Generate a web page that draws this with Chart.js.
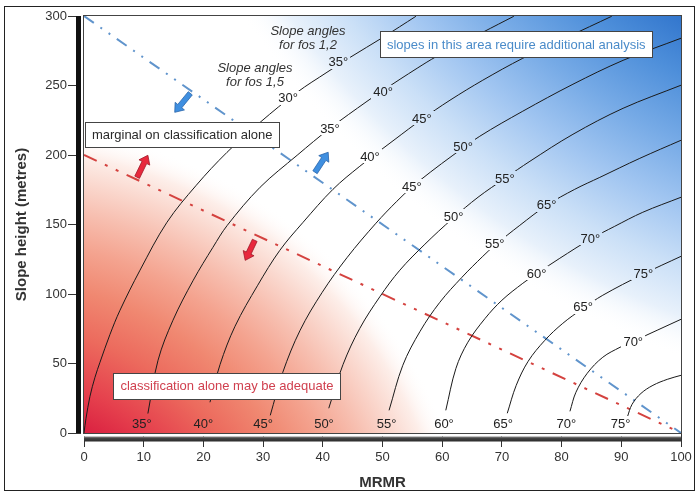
<!DOCTYPE html>
<html><head><meta charset="utf-8">
<script src="https://cdn.jsdelivr.net/npm/chart.js@4.4.0/dist/chart.umd.min.js"></script>
<style>html,body{margin:0;padding:0;background:#fff}#wrap{width:700px;height:499px}</style>
</head><body><div id="wrap"><canvas id="c" width="700" height="499"></canvas></div>
<script>
// ---- data (MRMR, slope height m) ----
const curve0 = [[0,0],[0.34,10.6],[1.0,26.4],[1.84,40.1],[2.68,50.9],[4.36,71.0],[6.03,88.3],[9.38,117.1],[13.9,151.6],[18.8,178.2],[23.95,201.9],[29.5,223.5],[35.7,245.1],[40.7,259.5],[44.6,270.3],[50.1,284.7],[55.6,299.8]];
const curve1 = [[10.7,14.0],[12.4,52.3],[14.9,81.1],[18.3,109.9],[21.6,133.6],[24.0,149.4],[29.5,176.8],[35.7,199.8],[41.2,219.2],[47.4,238.6],[50.1,246.5],[55.8,262.4],[59.1,271.0],[66.8,288.3],[72.0,299.8]];
const curve2 = [[21.1,22.1],[22.8,49.4],[25.3,76.8],[29.1,106.3],[32.8,131.4],[36.7,151.6],[41.7,175.3],[46.2,191.9],[52.1,211.3],[56.6,225.7],[61.3,239.4],[66.8,253.8],[73.5,269.6],[80.9,284.7],[88.4,299.8]];
const curve3 = [[31.2,12.7],[33.3,43.7],[36.2,73.9],[39.9,101.2],[44.1,126.4],[48.9,150.9],[52.4,166.7],[54.9,176.8],[58.0,187.6],[61.8,199.8],[66.3,213.5],[73.5,231.5],[81.9,250.9],[90.3,268.1],[100,284.0]];
const curve4 = [[41.0,17.8],[43.4,49.4],[46.2,75.3],[49.6,98.3],[52.9,117.1],[57.1,135.8],[61.8,154.5],[66.0,169.6],[70.5,183.2],[74.7,195.5],[81.9,214.9],[90.3,233.6],[100,250.2]];
const curve5 = [[51.1,16.3],[53.4,48.7],[56.3,73.2],[59.6,94.0],[63.3,112.0],[66.8,127.1],[68.8,135.0],[73.0,149.4],[77.5,163.8],[82.2,175.3],[86.4,183.9],[93.1,197.6],[100,210.6]];
const curve6 = [[60.6,16.3],[62.3,46.5],[64.3,65.3],[67.2,82.5],[70.0,95.5],[73.5,107.7],[75.9,114.9],[79.7,125.7],[84.8,139.4],[88.9,148.7],[93.6,158.8],[100,169.6]];
const curve7 = [[70.9,14.2],[72.4,34.3],[74.4,51.6],[77.2,66.7],[80.2,78.9],[83.6,89.7],[86.9,99.1],[93.6,114.2],[100,127.1]];
const curve8 = [[81.4,15.6],[82.4,29.3],[84.3,43.0],[86.9,54.5],[89.8,61.7],[92.0,66.0],[96.0,73.9],[100,81.8]];
const curve9 = [[91.0,11.3],[91.8,20.6],[93.3,28.5],[95.3,34.3],[97.7,38.6],[100,41.5]];
const blueLimit = [[0,300],[100,0]];
const redLimit = [[0,200],[100,0]];

const xTickStep = 10, yTickStep = 50;

// labels (text) and their anchor points on the curves
const fos15Text = ['30°','35°','40°','45°','50°','55°','60°','65°','70°'];
const fos15At = [[34.2,240.8],[41.2,219.0],[47.9,198.6],[54.9,177.0],[61.9,155.4],[68.8,136.3],[75.8,114.7],[83.6,90.6],[92.0,65.5]];
const fos12Text = ['35°','40°','45°','50°','55°','65°','70°','75°'];
const fos12At = [[42.6,266.9],[50.1,245.3],[56.6,226.2],[63.5,205.8],[70.5,183.0],[77.5,163.8],[84.8,139.9],[93.7,114.7]];
const baseText = ['35°','40°','45°','50°','55°','60°','65°','70°','75°'];
const baseAt = [[9.7,6.8],[20.0,6.8],[30.0,6.8],[40.2,6.8],[50.7,6.8],[60.3,6.8],[70.2,6.8],[80.8,6.8],[89.9,6.8]];

const FONT = 'Liberation Sans, Arial, sans-serif';

// background shading: radial washes (stop = distance in px from an off-plot centre)
const redStops = [[180,'rgb(216,26,62)'],[225,'rgb(229,64,77)'],[275,'rgb(236,106,93)'],[320,'rgb(240,136,113)'],
                  [360,'rgb(244,163,143)'],[395,'rgb(247,190,175)'],[425,'rgb(250,215,205)'],[452,'rgb(253,238,233)'],[478,'rgba(255,255,255,0)']];
const blueStops = [[579,'rgb(50,118,205)'],[630,'rgb(78,143,218)'],[690,'rgb(118,170,230)'],[750,'rgb(162,198,241)'],
                   [805,'rgb(203,224,247)'],[850,'rgb(232,241,251)'],[890,'rgba(255,255,255,0)']];

function radial(ctx, cx, cy, stops) {
  const r0 = stops[0][0], r1 = stops[stops.length - 1][0];
  const g = ctx.createRadialGradient(cx, cy, r0, cx, cy, r1);
  stops.forEach(st => g.addColorStop((st[0] - r0) / (r1 - r0), st[1]));
  return g;
}
function paintBg(ctx, a) {
  const w = a.right - a.left, h = a.bottom - a.top;
  ctx.fillStyle = '#fff';
  ctx.fillRect(a.left, a.top, w, h);
  ctx.fillStyle = radial(ctx, a.left - 84, a.bottom + 168, redStops);
  ctx.fillRect(a.left, a.top, w, h);
  ctx.fillStyle = radial(ctx, a.right + 299, a.top - 496, blueStops);
  ctx.fillRect(a.left, a.top, w, h);
}

function arrow(ctx, x1, y1, x2, y2, fill, stroke) {
  const dx = x2 - x1, dy = y2 - y1, L = Math.hypot(dx, dy);
  const ux = dx / L, uy = dy / L, nx = -uy, ny = ux;
  const sw = 2.6, hw = 6, hl = 8;
  const bx = x2 - ux * hl, by = y2 - uy * hl;
  const p = [[x1 + nx * sw, y1 + ny * sw], [bx + nx * sw, by + ny * sw], [bx + nx * hw, by + ny * hw], [x2, y2],
             [bx - nx * hw, by - ny * hw], [bx - nx * sw, by - ny * sw], [x1 - nx * sw, y1 - ny * sw]];
  ctx.beginPath();
  p.forEach((q, i) => i ? ctx.lineTo(q[0], q[1]) : ctx.moveTo(q[0], q[1]));
  ctx.closePath();
  ctx.fillStyle = fill; ctx.fill();
  ctx.strokeStyle = stroke; ctx.lineWidth = 0.8; ctx.stroke();
}

let snapshot = null;
const bgPlugin = {
  id: 'bg',
  beforeDraw(chart) {
    const ctx = chart.ctx;
    ctx.save();
    ctx.fillStyle = '#fff';
    ctx.fillRect(0, 0, chart.width, chart.height);
    ctx.strokeStyle = '#222'; ctx.lineWidth = 1;
    ctx.strokeRect(4.5, 6.5, 690, 484);
    ctx.restore();
  },
  beforeDatasetsDraw(chart) {
    const ctx = chart.ctx;
    ctx.save();
    paintBg(ctx, chart.chartArea);
    ctx.restore();
    snapshot = ctx.getImageData(0, 0, chart.canvas.width, chart.canvas.height);
  },
  afterDatasetsDraw(chart) {
    const ctx = chart.ctx, a = chart.chartArea;
    const r = chart.currentDevicePixelRatio || 1;
    const xs = chart.scales.x, ys = chart.scales.y;
    const px = v => xs.getPixelForValue(v), py = v => ys.getPixelForValue(v);
    ctx.save();
    ctx.font = '13px ' + FONT;
    ctx.textAlign = 'center'; ctx.textBaseline = 'middle';
    const drawLabel = (t, at) => {
      const x = px(at[0]), y = py(at[1]);
      const w = ctx.measureText(t).width;
      const L = Math.floor(x - w / 2 - 2), T = Math.floor(y - 7);
      ctx.putImageData(snapshot, 0, 0, L * r, T * r, Math.ceil(w + 4) * r, 14 * r);
      ctx.fillStyle = '#222';
      ctx.fillText(t, x, y + 0.5);
    };
    fos15Text.forEach((t, i) => drawLabel(t, fos15At[i]));
    fos12Text.forEach((t, i) => drawLabel(t, fos12At[i]));
    baseText.forEach((t, i) => drawLabel(t, baseAt[i]));

    // text boxes
    const box = (x0, y0, x1, y1, text, color) => {
      const L = px(x0), R = px(x1), T = py(y1), B = py(y0);
      ctx.fillStyle = '#fff';
      ctx.fillRect(L, T, R - L, B - T);
      ctx.strokeStyle = '#444'; ctx.lineWidth = 1;
      ctx.strokeRect(Math.round(L) + 0.5, Math.round(T) + 0.5, Math.round(R - L), Math.round(B - T));
      ctx.fillStyle = color; ctx.font = '13px ' + FONT;
      ctx.fillText(text, (L + R) / 2, (T + B) / 2 + 0.5);
    };
    box(0.2, 205.5, 32.7, 223.5, 'marginal on classification alone', '#2a2a2a');
    box(49.6, 270.0, 95.2, 288.9, 'slopes in this area require additional analysis', '#4a8bc9');
    box(4.9, 24.2, 43.0, 43.0, 'classification alone may be adequate', '#d0404f');

    // italic captions
    ctx.fillStyle = '#333'; ctx.font = 'italic 13px ' + FONT;
    ctx.fillText('Slope angles', 308, 31);
    ctx.fillText('for fos 1,2', 308, 45);
    ctx.fillText('Slope angles', 255, 68);
    ctx.fillText('for fos 1,5', 255, 82);

    // arrows
    arrow(ctx, px(17.8), py(244.4), px(15.2), py(230.7), '#3f8fe0', '#2a64aa');
    arrow(ctx, px(38.7), py(187.6), px(40.9), py(202.0), '#3f8fe0', '#2a64aa');
    arrow(ctx, px(8.9), py(184.0), px(10.7), py(199.8), '#e8283c', '#a01a2a');
    arrow(ctx, px(28.6), py(138.6), px(27.0), py(124.2), '#e8283c', '#a01a2a');

    // axis bars and frame
    ctx.fillStyle = '#fff';
    ctx.fillRect(a.left - 3, a.top, 3, a.bottom - a.top + 3);
    ctx.fillRect(a.left - 3, a.bottom, a.right - a.left + 3, 3.5);
    ctx.fillStyle = '#111';
    ctx.fillRect(a.left - 8, a.top, 5, a.bottom - a.top);
    const g = ctx.createLinearGradient(0, a.bottom + 3.5, 0, a.bottom + 8.5);
    g.addColorStop(0, '#888'); g.addColorStop(0.4, '#444'); g.addColorStop(1, '#2a2a2a');
    ctx.fillStyle = g;
    ctx.fillRect(a.left, a.bottom + 3.5, a.right - a.left, 5);
    ctx.strokeStyle = '#444'; ctx.lineWidth = 1;
    ctx.strokeRect(Math.round(a.left) - 0.5, Math.round(a.top) - 0.5, Math.round(a.right - a.left) + 1, Math.round(a.bottom - a.top) + 1);
    ctx.restore();
  }
};

const curveStyle = { showLine: true, pointRadius: 0, borderColor: '#1a1a1a', borderWidth: 1, tension: 0.35, fill: false };
const curves = [curve0, curve1, curve2, curve3, curve4, curve5, curve6, curve7, curve8, curve9];
const datasets = curves.map((d, i) => Object.assign({ label: 'c' + i, data: d.map(p => ({ x: p[0], y: p[1] })) }, curveStyle));
datasets.push({ label: 'blue', data: blueLimit.map(p => ({ x: p[0], y: p[1] })), showLine: true, pointRadius: 0, fill: false,
  borderColor: '#6094cc', borderWidth: 2, borderDash: [12, 8, 2, 8, 2, 8] });
datasets.push({ label: 'red', data: redLimit.map(p => ({ x: p[0], y: p[1] })), showLine: true, pointRadius: 0, fill: false,
  borderColor: '#d4423f', borderWidth: 2, borderDash: [14, 9, 3, 9, 3, 9] });

new Chart(document.getElementById('c'), {
  type: 'scatter',
  data: { datasets },
  options: {
    responsive: false, animation: false, devicePixelRatio: 1,
    layout: { padding: { left: 0, top: 16, right: 19, bottom: 0 } },
    plugins: { legend: { display: false }, tooltip: { enabled: false } },
    scales: {
      x: {
        type: 'linear', min: 0, max: 100,
        ticks: { stepSize: xTickStep, color: '#333', font: { family: FONT, size: 13 }, padding: 3, maxRotation: 0 },
        grid: { drawOnChartArea: false, drawTicks: true, tickLength: 14, color: '#333' },
        border: { display: false },
        title: { display: true, text: 'MRMR', color: '#333', font: { family: FONT, size: 15, weight: 'bold' }, padding: { top: 0, bottom: 7 } },
        afterFit: s => { s.height = 66; }
      },
      y: {
        type: 'linear', min: 0, max: 300,
        ticks: { stepSize: yTickStep, color: '#333', font: { family: FONT, size: 13 }, padding: 1 },
        grid: { drawOnChartArea: false, drawTicks: true, tickLength: 16, color: '#333' },
        border: { display: false },
        title: { display: true, text: 'Slope height (metres)', color: '#333', font: { family: FONT, size: 15, weight: 'bold' }, padding: { top: 13, bottom: 0 } },
        afterFit: s => { s.width = 84; }
      }
    }
  },
  plugins: [bgPlugin]
});
</script></body></html>
